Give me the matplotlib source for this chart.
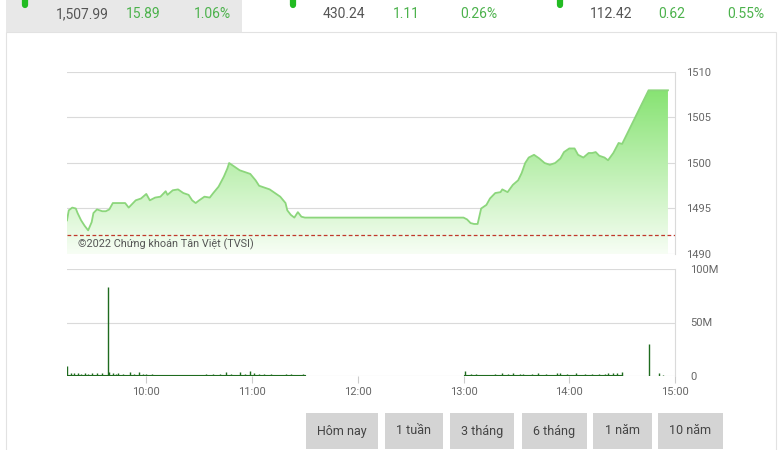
import numpy as np
import matplotlib
matplotlib.use("Agg")
from matplotlib import pyplot as plt
from matplotlib.patches import Rectangle, Polygon
from matplotlib.lines import Line2D

# summary row above the chart
index_values = ["1,507.99", "430.24", "112.42"]
index_changes = ["15.89", "1.11", "0.62"]
index_pcts = ["1.06%", "0.26%", "0.55%"]

ref_price = 1492.10

price_times = [
    "9:15", "9:16", "9:18", "9:20", "9:21", "9:23", "9:25", "9:27", "9:29", "9:30",
    "9:32", "9:35", "9:37", "9:39", "9:41", "9:44", "9:48", "9:50", "9:52", "9:54",
    "9:57", "10:00", "10:02", "10:05", "10:08", "10:11", "10:12", "10:15", "10:18", "10:21",
    "10:24", "10:26", "10:28", "10:30", "10:33", "10:36", "10:38", "10:41", "10:44", "10:46",
    "10:47", "10:50", "10:53", "10:56", "10:59", "11:02", "11:04", "11:07", "11:10", "11:13",
    "11:16", "11:19", "11:20", "11:22", "11:24", "11:26", "11:28", "11:30",
    "13:00", "13:02", "13:04", "13:06", "13:08", "13:10", "13:13", "13:15", "13:18", "13:21",
    "13:22", "13:25", "13:28", "13:31", "13:33", "13:35", "13:37", "13:40", "13:43", "13:46",
    "13:49", "13:52", "13:55", "13:57", "14:00", "14:03", "14:05", "14:08", "14:11", "14:13",
    "14:15", "14:17", "14:20", "14:22", "14:25", "14:28", "14:30", "14:45", "14:56",
]
price_values = [
    1493.7, 1494.8, 1495.1, 1495.0, 1494.5, 1493.7, 1493.1, 1492.6, 1493.5, 1494.5,
    1494.9, 1494.7, 1494.7, 1494.9, 1495.6, 1495.6, 1495.6, 1495.1, 1495.5, 1495.9,
    1496.1, 1496.6, 1495.9, 1496.2, 1496.3, 1496.9, 1496.5, 1497.0, 1497.1, 1496.7,
    1496.5, 1495.9, 1495.6, 1495.9, 1496.3, 1496.2, 1496.7, 1497.4, 1498.5, 1499.4,
    1500.0, 1499.6, 1499.2, 1499.0, 1498.8, 1498.1, 1497.5, 1497.3, 1497.1, 1496.7,
    1496.3, 1495.6, 1494.8, 1494.3, 1494.0, 1494.6, 1494.1, 1494.0,
    1494.0, 1493.8, 1493.4, 1493.3, 1493.3, 1495.0, 1495.4, 1496.1, 1496.7, 1496.8,
    1497.1, 1496.8, 1497.6, 1498.1, 1498.9, 1500.0, 1500.6, 1500.9, 1500.5, 1500.0,
    1499.8, 1500.0, 1500.5, 1501.2, 1501.6, 1501.6, 1500.9, 1500.6, 1501.1, 1501.1,
    1501.2, 1500.8, 1500.6, 1500.3, 1501.1, 1502.2, 1502.1, 1507.99, 1507.99,
]

# matched volume, millions of shares
volume_times = [
    "9:15", "9:17", "9:19", "9:21", "9:23", "9:25", "9:27", "9:29", "9:32", "9:35",
    "9:38", "9:39", "9:41", "9:43", "9:44", "9:47", "9:51", "9:53", "9:56", "9:58",
    "10:00", "10:03", "10:06", "10:10", "10:14", "10:18", "10:25", "10:30", "10:34", "10:38",
    "10:42", "10:45", "10:48", "10:53", "10:56", "10:59", "11:01", "11:04", "11:07", "11:11",
    "11:15", "11:19", "11:22", "11:26", "11:29",
    "13:01", "13:04", "13:07", "13:09", "13:14", "13:18", "13:22", "13:25", "13:28", "13:32",
    "13:34", "13:39", "13:42", "13:47", "13:53", "13:55", "13:59", "14:04", "14:09", "14:13",
    "14:17", "14:20", "14:22", "14:25", "14:27", "14:30", "14:45", "14:51", "14:53",
]
volume_values = [
    9, 3, 2.5, 3, 1.5, 2.5, 1.5, 3, 2.5, 3,
    83, 4, 2.5, 1.5, 2.5, 2, 4, 1.5, 3.5, 1.5,
    2, 1.5, 1.2, 1, 1.2, 1, 1.2, 1.2, 1.5, 1.5,
    2, 3.5, 2, 3.5, 2, 5, 2.5, 2, 1.5, 1.5,
    1.2, 1.5, 2, 1.2, 1.5,
    4.7, 2, 1.5, 1.2, 1.2, 1.5, 2.5, 2, 2.5, 1.5,
    2, 2, 2.5, 2, 3, 2.5, 1.5, 2.5, 1.5, 2,
    1.5, 2, 2.5, 3, 2.5, 4, 30, 2.5, 1,
]
sessions = [("9:15", "11:30"), ("13:00", "14:30")]

hour_ticks = ["10:00", "11:00", "12:00", "13:00", "14:00", "15:00"]
price_ticks = [1490, 1495, 1500, 1505, 1510]
volume_ticks = [0, 50, 100]
volume_labels = ["0", "50M", "100M"]
buttons = ["Hôm nay", "1 tuần", "3 tháng", "6 tháng", "1 năm", "10 năm"]

W, H = 781, 450
FONT = ["Roboto", "DejaVu Sans"]
GRID = "#dadada"
GREEN_TXT = "#4cb24c"


def to_min(s):
    h, m = s.split(":")
    return int(h) * 60 + int(m)


def fx(x):
    return x / W


def fy(y):
    return 1 - y / H


fig = plt.figure(figsize=(W / 100, H / 100), dpi=100)
fig.patch.set_facecolor("white")

# card + header band (kept behind the axes)
fig.add_artist(Rectangle((fx(6), -0.01), fx(770), (H - 32) / H + 0.01, transform=fig.transFigure,
                         facecolor="white", edgecolor="#e2e2e2", lw=0.8, zorder=-10))
fig.add_artist(Rectangle((fx(6), fy(31.5)), fx(236), 31.5 / H, transform=fig.transFigure,
                         facecolor="#e8e8e8", edgecolor="none", zorder=-9))
for mx in [25, 293, 560]:
    fig.add_artist(Line2D([fx(mx), fx(mx)], [fy(-6), fy(5)], transform=fig.transFigure,
                          lw=4.5, color="#22bb22", solid_capstyle="round", zorder=-8))

val_x = [56, 323, 590]
chg_x = [126, 393, 658]
pct_x = [194, 460, 727]
for i in range(3):
    fig.text(fx(val_x[i]), fy(14), index_values[i], family=FONT, fontsize=10,
             color="#555555", va="center")
    fig.text(fx(chg_x[i]), fy(14), index_changes[i], family=FONT, fontsize=10,
             color=GREEN_TXT, va="center")
    fig.text(fx(pct_x[i]), fy(14), index_pcts[i], family=FONT, fontsize=10,
             color=GREEN_TXT, va="center")

# price panel
ax = fig.add_axes([fx(67), fy(254), fx(608), 182 / H])
ax.set_facecolor("none")
px = np.array([to_min(t) for t in price_times])
py = np.array(price_values)
verts = [(px[0], 1490)] + list(zip(px, py)) + [(px[-1], 1490)]
poly = Polygon(verts, closed=True, facecolor="none", edgecolor="none")
ax.add_patch(poly)
g = np.linspace(0, 1, 256)[:, None, None]
top = np.array([0.53, 0.89, 0.45])
bot = np.array([0.97, 0.995, 0.96])
img = (1 - g) * top + g * bot
im = ax.imshow(img, extent=[px[0], px[-1], 1490, py.max()], aspect="auto", zorder=1)
im.set_clip_path(poly)
ax.plot(px, py, color="#8cd67c", lw=1.3, zorder=3)
ax.axhline(ref_price, color="#c0392b", lw=0.9, dashes=(3, 2), zorder=4)

ax.set_xlim(555, 900)
ax.set_ylim(1490, 1510)
ax.set_xticks([])
ax.set_yticks(price_ticks)
ax.yaxis.tick_right()
ax.yaxis.grid(True, color=GRID, lw=0.8)
ax.set_axisbelow(True)
ax.tick_params(axis="y", length=0, pad=8, labelsize=8, labelcolor="#666666")
for lab in ax.get_yticklabels():
    lab.set_family(FONT)
for s in ["left", "top", "bottom"]:
    ax.spines[s].set_visible(False)
ax.spines["right"].set_color(GRID)
ax.spines["right"].set_linewidth(0.8)

fig.text(fx(78), fy(244), "©2022 Chứng khoán Tân Việt (TVSI)", family=FONT,
         fontsize=7.8, color="#555555", va="center")

# volume panel
vax = fig.add_axes([fx(67), fy(376), fx(608), 107 / H])
vax.set_facecolor("none")
vt = np.array([to_min(t) for t in volume_times])
vax.vlines(vt, 0, volume_values, color="#1f6b1f", lw=1.0, zorder=3)
for s, e in sessions:
    vax.plot([to_min(s), to_min(e)], [0.7, 0.7], color="#1f6b1f", lw=0.8, zorder=3)
vax.set_xlim(555, 900)
vax.set_ylim(0, 100)
vax.set_yticks(volume_ticks)
vax.set_yticklabels(volume_labels)
vax.yaxis.tick_right()
vax.yaxis.grid(True, color=GRID, lw=0.8)
vax.set_xticks([to_min(t) for t in hour_ticks])
vax.set_xticklabels(hour_ticks)
vax.tick_params(axis="y", length=0, pad=11, labelsize=8, labelcolor="#666666")
vax.tick_params(axis="x", length=5, width=0.8, color="#cccccc", pad=3,
                labelsize=8, labelcolor="#666666")
for lab in vax.get_yticklabels() + vax.get_xticklabels():
    lab.set_family(FONT)
for s in ["left", "top", "bottom"]:
    vax.spines[s].set_visible(False)
vax.spines["right"].set_color(GRID)
vax.spines["right"].set_linewidth(0.8)

# period buttons
btn_x = [(306, 378), (385, 443), (450, 514), (522, 587), (593, 652), (658, 723)]
for label, (x0, x1) in zip(buttons, btn_x):
    fig.add_artist(Rectangle((fx(x0), fy(449)), fx(x1 - x0), 36 / H, transform=fig.transFigure,
                             facecolor="#d4d4d4", edgecolor="none"))
    fig.text(fx((x0 + x1) / 2), fy(431), label, family=FONT, fontsize=9,
             color="#444444", ha="center", va="center")

fig.savefig("out.png", dpi=100)
